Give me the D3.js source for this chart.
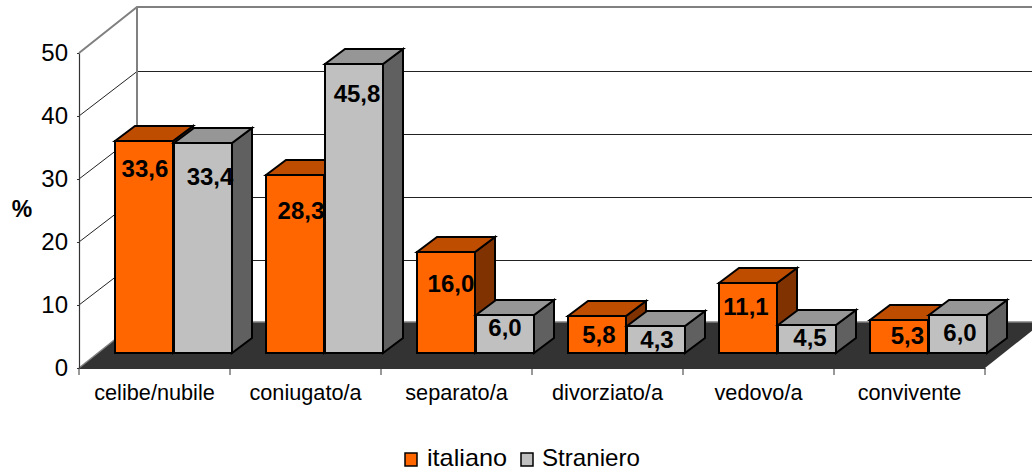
<!DOCTYPE html>
<html><head><meta charset="utf-8">
<script src="https://cdn.jsdelivr.net/npm/d3@7/dist/d3.min.js"></script>
<style>html,body{margin:0;padding:0;background:#fff}svg{display:block}text{font-family:"Liberation Sans",Arial,sans-serif;fill:#000}</style>
</head><body><svg id="c" width="1032" height="470"></svg>
<script>
const categories = ["celibe/nubile","coniugato/a","separato/a","divorziato/a","vedovo/a","convivente"];
const seriesNames = ["italiano","Straniero"];
const italiano = [33.6,28.3,16.0,5.8,11.1,5.3];
const straniero = [33.4,45.8,6.0,4.3,4.5,6.0];
const yTicks = [0,10,20,30,40,50];
// manual label nudges (px) relative to bar centre / bar top
const labelNudge = [
 [[0.5,35.7],[7.5,42.4]],[[5.5,44.3],[3.5,37.5]],[[4.5,39.8],[0.5,20.8]],[[1.5,26.5],[1.5,22]],[[-2.5,32],[3.5,21.4]],[[8,24.4],[2.5,25.8]]
];
const svg = d3.select("#c");
const wall = {dx:58, dy:-46}, bar3d = {dx:20, dy:-15}, shift = {dx:19, dy:-15};
const x = d3.scaleBand().domain(categories).range([79,985]);
const y = d3.scaleLinear().domain([0,50]).range([368,53]);
const xs = d3.scaleBand().domain(seriesNames).range([0,x.bandwidth()]).paddingInner(0).paddingOuter(0.3);
const pal = {
 italiano:{front:"#FF6600",top:"#BF4D00",side:"#803300"},
 Straniero:{front:"#C0C0C0",top:"#969696",side:"#606060"}
};
const pts = a => a.map(p=>p.join(",")).join(" ");
const x0=x.range()[0], x1=x.range()[1], y0=y(0), yT=y(50);
// floor
svg.append("polygon").attr("points",pts([[x0,y0],[x1,y0],[x1+wall.dx,y0+wall.dy],[x0+wall.dx,y0+wall.dy]])).attr("fill","#333");
svg.append("line").attr("x1",x0+wall.dx).attr("x2",1032).attr("y1",y0+wall.dy).attr("y2",y0+wall.dy).attr("stroke","#808080").attr("stroke-width",1.5);
svg.append("line").attr("x1",x0).attr("y1",y0).attr("x2",x0+wall.dx).attr("y2",y0+wall.dy).attr("stroke","#808080").attr("stroke-width",1.5);
// gridlines
yTicks.filter(d=>d>0&&d<50).forEach(d=>{
  const by = y(d)+wall.dy+1.5;
  svg.append("polyline").attr("fill","none").attr("stroke","#222").attr("stroke-width",1)
   .attr("points",pts([[x0,y(d)],[x0+wall.dx,by],[1032,by]]));
});
// frame
svg.append("polyline").attr("fill","none").attr("stroke","#808080").attr("stroke-width",2)
  .attr("points",pts([[x0,yT],[x0+wall.dx,yT+wall.dy],[1032,yT+wall.dy]]));
svg.append("line").attr("x1",x0+wall.dx).attr("x2",x0+wall.dx).attr("y1",yT+wall.dy).attr("y2",y0+wall.dy).attr("stroke","#808080").attr("stroke-width",2);
// axes
const ax = svg.append("g").attr("transform",`translate(${x0},0)`).call(d3.axisLeft(y).tickValues(yTicks).tickSize(2).tickSizeOuter(0).tickPadding(9));
ax.selectAll("text").attr("font-size",24).style("font-family",'"Liberation Sans"');
const bx = svg.append("g").attr("transform",`translate(0,${y0})`).call(d3.axisBottom(x).tickSize(0).tickPadding(17));
bx.selectAll("text").attr("font-size",21.7).style("font-family",'"Liberation Sans"');
svg.selectAll("line.t").data(d3.range(categories.length+1)).enter().append("line").attr("class","t")
  .attr("x1",i=>x0+i*x.step()).attr("x2",i=>x0+i*x.step()).attr("y1",y0).attr("y2",y0+7).attr("stroke","#333").attr("stroke-width",1);
svg.selectAll(".domain").attr("stroke","#333").attr("stroke-width",1.2);
svg.selectAll(".tick line").attr("stroke","#333");
// bars
const groups = categories.map((c,i)=>({c,i,vals:[{s:"italiano",v:italiano[i]},{s:"Straniero",v:straniero[i]}]}));
const labels=[];
groups.forEach(g=>{
  g.vals.forEach((d,j)=>{
    const l = Math.round(x(g.c)+xs(d.s)+shift.dx), w=Math.round(xs.bandwidth()), r=l+w;
    const b = y0+shift.dy, t = Math.round(y(d.v)+shift.dy);
    const c = pal[d.s];
    const G = svg.append("g").attr("stroke","#000").attr("stroke-width",2).attr("stroke-linejoin","miter");
    G.append("polygon").attr("fill",c.side).attr("points",pts([[r,t],[r+bar3d.dx,t+bar3d.dy],[r+bar3d.dx,b+bar3d.dy],[r,b]]));
    G.append("polygon").attr("fill",c.top).attr("points",pts([[l,t],[l+bar3d.dx,t+bar3d.dy],[r+bar3d.dx,t+bar3d.dy],[r,t]]));
    G.append("rect").attr("fill",c.front).attr("x",l).attr("y",t).attr("width",w).attr("height",b-t);
    const n = labelNudge[g.i][j];
    labels.push({x:x(g.c)+xs(d.s)+shift.dx+xs.bandwidth()/2+n[0], y:y(d.v)+shift.dy+n[1], t:d.v.toFixed(1).replace(".",",")});
  });
});
svg.selectAll("text.val").data(labels).enter().append("text").attr("class","val")
  .attr("x",d=>d.x).attr("y",d=>d.y).attr("text-anchor","middle").attr("font-weight","bold").attr("font-size",24).text(d=>d.t);
// y title
svg.append("text").attr("x",22).attr("y",217).attr("text-anchor","middle").attr("font-weight","bold").attr("font-size",23).text("%");
// legend
const lg=[{n:seriesNames[0],sx:405,tx:427,len:80},{n:seriesNames[1],sx:521,tx:542,len:98}];
lg.forEach(d=>{
  svg.append("rect").attr("x",d.sx).attr("y",453).attr("width",12).attr("height",13).attr("fill",pal[d.n].front).attr("stroke","#000").attr("stroke-width",1.5);
  svg.append("text").attr("x",d.tx).attr("y",466).attr("font-size",24).attr("textLength",d.len).attr("lengthAdjust","spacingAndGlyphs").text(d.n);
});
</script></body></html>
